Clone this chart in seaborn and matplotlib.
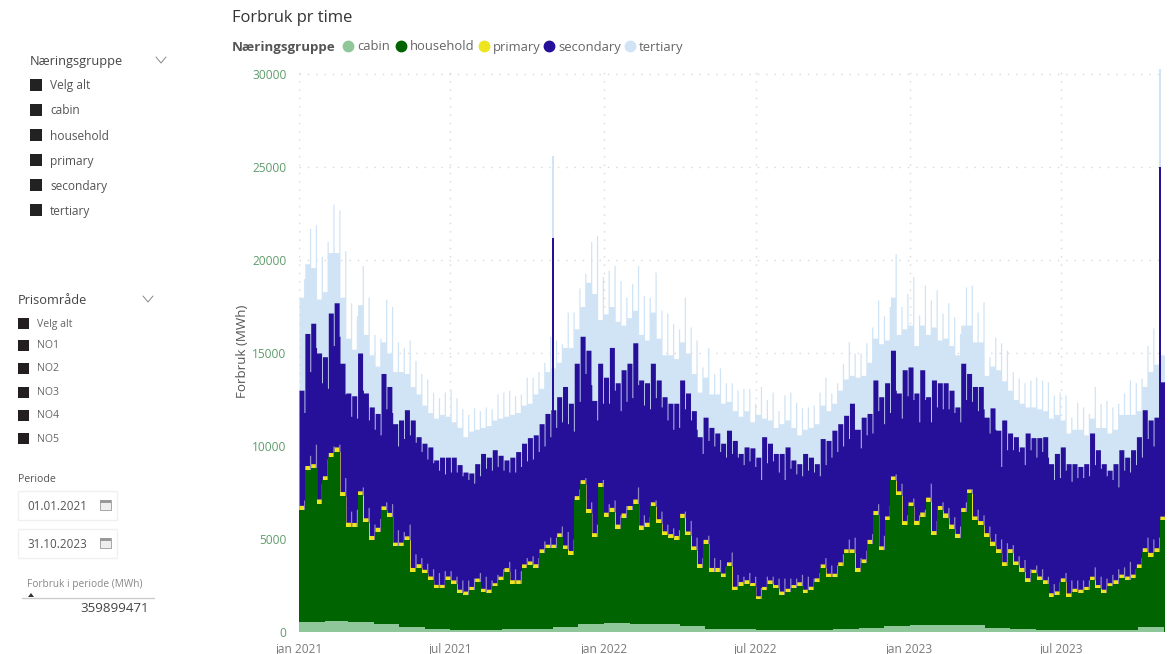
import pandas as pd
import seaborn as sns
import matplotlib.pyplot as plt
from matplotlib.lines import Line2D
from matplotlib.patches import Rectangle, Polygon

# Weekly readings: a long block for most of the week, a short one for the rest
tertiary_mass = [
    18000,19800,19600,17900,18300,20400,20400,18000,15800,15200,
    17600,16000,14900,14300,15600,15000,14000,14000,13900,13200,
    12800,12200,11800,11500,11700,11600,11300,11000,10500,10800,
    10900,11000,11100,11400,11500,11600,11700,11800,12200,12300,
    12800,13100,14000,14200,14500,15300,15300,16300,17500,18800,
    18200,16800,17100,17500,16700,16500,16900,17300,16000,15700,
    17200,15800,14900,14900,14700,15600,15000,13900,12900,13700,
    12800,12800,12300,12400,11900,11600,11900,11300,11700,11500,
    11400,11000,11200,11400,11000,10600,10900,11000,11200,12200,
    11900,12300,13000,13600,13800,13700,13800,14500,15800,15500,
    15700,18000,16000,16300,16500,15400,16500,16000,16400,15700,
    15800,15400,14900,16500,16500,15600,15600,13800,14300,14100,
    13500,13000,12500,12300,12100,12100,12000,11900,11500,11700,
    11400,10700,10900,10900,10600,11500,11000,11000,10700,10900,
    11700,11700,11700,11900,13200,14000,14400,14900]
tertiary_peak = [
    19000,21700,21900,20200,21000,23000,22700,20500,17700,17000,
    19700,18000,16000,15800,17900,17500,15600,15300,15700,14600,
    13900,13600,12900,12600,12900,13000,12600,12000,11700,12050,
    11900,12100,12000,12800,12900,13000,12700,12800,13700,13700,
    14000,14500,15900,15700,15500,17200,17200,18500,19300,21000,
    21300,19100,19450,19700,18900,18000,18750,19700,18100,18000,
    19350,17300,17150,16600,16300,18000,16400,15700,14250,15300,
    13900,14200,13400,13400,13000,13100,13100,12300,13200,12500,
    12900,11900,12750,12900,12350,12050,12100,12200,12900,13700,
    12850,13400,14450,15600,15000,15000,15550,16400,17850,17000,
    17500,20350,17500,18200,19100,17050,18650,17850,18400,17150,
    17700,16950,16050,18550,18650,17200,17750,14800,15850,15550,
    15150,14000,13650,13400,13550,13700,13550,13450,12750,12900,
    12750,11550,12350,12100,11750,13200,12300,12450,12100,12300,
    12850,13550,13400,13650,15400,16350,16950,15800]
secondary_high = [
    13000,16050,16600,15000,14800,17150,17700,14450,12850,12700,
    15000,12850,12100,11750,13900,13200,11200,11400,11950,11400,
    10500,10150,9950,9250,9400,9400,9400,9000,8600,8550,
    9050,9600,9400,9800,9500,9250,9400,9700,10150,10450,
    10600,11200,11750,11950,12650,13200,12300,14450,15900,15150,
    12450,14450,13700,15300,13400,14100,14450,15550,13550,13400,
    14450,13550,12650,12300,12300,13550,12850,11900,10500,11550,
    11000,10700,10150,10850,10300,9600,9950,9900,9400,10500,
    10150,9600,9600,9950,9250,9050,9600,9400,9050,10400,
    10300,10850,11200,11650,12300,10900,11550,11750,13550,12650,
    13400,15150,12850,14100,14250,12850,14100,12650,13550,13400,
    13400,13000,12100,14450,13900,13200,13200,11550,12050,10850,
    11400,10700,10500,9950,10700,10450,10450,10500,9050,9600,
    9950,9050,9050,8900,9050,10700,9800,9050,8700,9050,
    9800,9400,9800,10500,11950,11400,11550,13450]
secondary_dip = [
    11800,14000,15300,13400,13100,15400,15900,12800,11600,11500,
    13000,11400,10900,10600,12000,11800,10000,10400,10600,10200,
    9700,9300,9100,8700,8500,8600,8600,8400,8200,8000,
    8400,8800,8700,8900,8700,8600,8600,8900,9200,9300,
    9700,10000,10500,11000,11300,11200,10800,12400,13900,13300,
    11400,12300,12300,13000,11900,12400,12600,13300,12200,12000,
    12600,12100,11400,10900,11000,12000,11400,10900,9600,10300,
    10000,9700,9400,9600,9400,9000,9200,8900,8200,9100,
    9200,8600,8200,8800,8500,8400,8700,8600,8400,9000,
    9400,9700,10000,10400,10900,9900,10600,10700,11900,11200,
    11800,13000,11500,12700,12500,11300,12500,11300,12100,12000,
    12000,11800,11300,12500,12400,11900,12000,10700,10900,8900,
    9800,9800,9700,9000,9800,9400,9700,9400,8200,8300,
    8700,8100,8300,8300,8400,9000,8800,8400,8200,7800,
    8700,8600,9000,9400,10400,10000,10100,11800]
household_top = [
    6560,8700,8800,6900,8150,9400,9700,7300,5650,5650,
    7350,5900,4950,5400,6550,6200,4600,4600,4950,3250,
    3450,3150,2800,2350,2350,2800,2600,2100,2000,2250,
    2700,2150,2100,2450,2800,3250,2600,2600,3450,3600,
    3450,4250,4500,4500,5100,4450,4150,7100,7950,6400,
    5100,7800,6200,6450,5550,6150,6550,6900,5500,5650,
    6750,5850,5200,5050,4950,6150,5200,4400,3450,4750,
    3250,3250,2950,3550,2250,2500,2600,2450,1750,2250,
    2600,2350,2000,2150,2350,2500,2100,2250,2700,3450,
    2950,2950,3550,4250,4250,3250,3700,4750,6300,4400,
    6000,8150,7350,5750,6750,5750,6200,7000,5200,6550,
    6150,5550,5050,6450,7450,6000,5750,5100,4650,4250,
    3550,4250,3600,3250,2700,3150,2800,2600,1900,2000,
    2700,1900,2150,2100,2250,2800,2350,2100,2450,2600,
    2900,2800,2900,3450,4300,4050,4300,6000]
household_tick = [
    7100,9500,10100,8000,9300,10000,10100,8300,6500,6600,
    7800,6700,5800,6100,7000,6900,5500,5400,5800,4200,
    4000,3700,3400,3200,3300,3300,3000,2800,2800,2900,
    3200,3000,2800,3100,3400,3800,3400,3300,4000,4100,
    4000,4900,5100,5100,5700,5400,5000,7700,8300,7000,
    5800,8200,6900,7100,6300,6800,6800,7800,6300,6200,
    7100,6500,5800,5600,5500,6500,6000,5100,4000,5200,
    4000,3900,3500,4300,3100,3000,3200,3000,2400,3000,
    3000,2900,2900,2900,2900,3100,3000,2900,3200,4000,
    3600,3600,4200,5000,5100,4000,4400,5300,6900,5200,
    6800,8500,8000,6300,7200,6300,6600,8000,6000,7000,
    6700,6200,5700,7000,7700,6600,6300,5700,5300,5000,
    4800,4700,4100,3900,3400,3600,3400,3000,2600,2700,
    3200,2800,2800,2800,2800,3500,3000,2900,3100,3400,
    3500,3800,3400,4000,5100,5000,5100,6400]

# Monthly readings jan 2021 - okt 2023
cabin_top = [560,600,520,420,280,170,130,130,150,180,250,420,
             480,430,430,300,170,140,120,120,130,160,200,340,
             400,400,400,190,170,130,130,120,130,260]
primary_band = [250,250,240,230,220,210,200,200,210,220,230,240,
                250,250,240,230,220,210,200,200,210,220,230,240,
                250,250,240,230,220,210,200,200,210,230]

# The two single days that stick out
spike_dates = ["2021-10-30", "2023-10-26"]
spike_secondary = [21200, 25000]
spike_tertiary = [25600, 30400]

tick_dates = ["2021-01-01", "2021-07-01", "2022-01-01", "2022-07-01", "2023-01-01", "2023-07-01"]
tick_labels = ["jan 2021", "jul 2021", "jan 2022", "jul 2022", "jan 2023", "jul 2023"]
y_ticks = [0, 5000, 10000, 15000, 20000, 25000, 30000]

groups = ["cabin", "household", "primary", "secondary", "tertiary"]
colors = ["#8fc79a", "#006400", "#ede51f", "#260f99", "#d0e4f5"]
col = dict(zip(groups, colors))

W, H = 1173, 654
sns.set_theme(style="whitegrid", rc={"axes.edgecolor": "white"})
plt.rcParams["font.family"] = ["Open Sans", "DejaVu Sans"]

fig = plt.figure(figsize=(W / 100, H / 100), dpi=100)
ax = fig.add_axes([299 / W, 1 - 632 / H, 865 / W, 563 / H])

start = pd.Timestamp("2021-01-01")
n_days = 1034
weeks = [i * 7 for i in range(len(household_top))]


def layer(edges, values, color, element="step"):
    edges = [float(e) for e in edges]
    mids = [(a + b) / 2 for a, b in zip(edges[:-1], edges[1:])]
    d = pd.DataFrame({"day": mids, "value": values})
    sns.histplot(d, x="day", weights="value", bins=edges, element=element, fill=True,
                 color=color, alpha=1, linewidth=0, ax=ax, zorder=3)


def two_block(long_vals, short_vals, split=5.5):
    edges, vals = [], []
    for w, a, b in zip(weeks, long_vals, short_vals):
        edges += [w, w + split]
        vals += [a, b]
    edges.append(weeks[-1] + 7)
    return edges, vals


spike_days = [(pd.Timestamp(d) - start).days for d in spike_dates]

edges, vals = two_block(tertiary_mass, tertiary_peak)
layer(edges, vals, col["tertiary"])
for d, v in zip(spike_days, spike_tertiary):
    layer([d, d + 2.5], [v], col["tertiary"], element="bars")

edges, vals = two_block(secondary_high, secondary_dip, split=6)
layer(edges, vals, col["secondary"])
for d, v in zip(spike_days, spike_secondary):
    layer([d, d + 2.5], [v], col["secondary"], element="bars")

# pale ticks over the household top
edges, vals = two_block([0] * len(weeks), household_tick)
layer(edges, vals, "#8f86c8")

week_dates = [start + pd.Timedelta(days=w) for w in weeks]
month_index = [(t.year - 2021) * 12 + t.month - 1 for t in week_dates]
with_primary = [h + primary_band[m] for h, m in zip(household_top, month_index)]
edges, vals = two_block(with_primary, household_top, split=5.5)
layer(edges, vals, col["primary"])
layer(weeks + [weeks[-1] + 7], household_top, col["household"])

month_edges = [(d - start).days for d in pd.date_range("2021-01-01", periods=len(cabin_top) + 1, freq="MS")]
layer(month_edges, cabin_top, col["cabin"])

ax.set_xlim(0, n_days)
ax.set_ylim(0, 563 / 0.0186)
ax.set_xticks([(pd.Timestamp(d) - start).days for d in tick_dates])
ax.set_xticklabels(tick_labels, color="#7a7a7a", fontsize=8.6)
ax.set_yticks(y_ticks)
ax.set_yticklabels([str(v) for v in y_ticks], color="#5f9c6b", fontsize=8.6)
ax.tick_params(axis="x", length=0, pad=8)
ax.tick_params(axis="y", length=0, pad=9)
ax.grid(True, color="#d8d8d8", linewidth=1, linestyle=(0, (1, 5)))
ax.set_axisbelow(True)
sns.despine(ax=ax, left=True, bottom=True)
ax.set_xlabel("")
ax.set_ylabel("")


# slicer panel and headers, placed in picture pixels
def txt(x, y, s, size=9, color="#444444", **kw):
    kw.setdefault("va", "center")
    fig.text(x / W, 1 - (y + 1) / H, s, fontsize=size, color=color, **kw)


def box(x, y, w, h, **kw):
    fig.add_artist(Rectangle((x / W, 1 - (y + h) / H), w / W, h / H, transform=fig.transFigure, **kw))


def chevron(x, y):
    fig.add_artist(Line2D([(x - 5) / W, x / W, (x + 5) / W], [1 - (y - 3) / H, 1 - (y + 3) / H, 1 - (y - 3) / H],
                          color="#888888", linewidth=0.7))


def calendar(x, y):
    box(x - 5, y - 5, 11, 10, facecolor="#eeeeee", edgecolor="#999999", linewidth=0.6)
    box(x - 5, y - 5, 11, 2.5, facecolor="#999999", edgecolor="none")


# hide the seam the fills leave along the base line
box(295, 632, 875, 3, facecolor="white", edgecolor="none")

txt(232, 17, "Forbruk pr time", size=11.9, color="#333333")
txt(232, 46, "Næringsgruppe", size=9.6, color="#555555", fontweight="bold")
legend_x = [348, 401, 484, 549, 630]
for g, x in zip(groups, legend_x):
    fig.add_artist(Line2D([x / W], [1 - 46 / H], marker="o", markersize=7.5, color=col[g], linestyle="none"))
    txt(x + 9, 46, g, size=9.4, color="#666666")

txt(242, 350, "Forbruk (MWh)", size=9.6, color="#555555", rotation=90, ha="center")

txt(30, 61, "Næringsgruppe", size=9.2, color="#444444")
chevron(161, 60)
for y, s in zip([85, 110, 135, 160, 185, 210], ["Velg alt", "cabin", "household", "primary", "secondary", "tertiary"]):
    box(30, y - 6, 12, 12, facecolor="#222222", edgecolor="none")
    txt(50, y, s, size=8.6, color="#555555")

txt(18, 300, "Prisområde", size=9.2, color="#444444")
chevron(148, 299)
for y, s in zip([323, 345, 368, 392, 415, 438], ["Velg alt", "NO1", "NO2", "NO3", "NO4", "NO5"]):
    box(18, y - 5, 11, 11, facecolor="#231f20", edgecolor="none")
    txt(37, y, s, size=7.6, color="#666666")

txt(18, 478, "Periode", size=7.6, color="#555555")
for y, s in zip([491, 529], ["01.01.2021", "31.10.2023"]):
    box(18, y, 99, 29, facecolor="white", edgecolor="#f0f0f0", linewidth=1)
    txt(27, y + 15, s, size=8.4, color="#555555")
    calendar(105, y + 14)

txt(27, 583, "Forbruk i periode (MWh)", size=7.3, color="#888888")
fig.add_artist(Line2D([22 / W, 154 / W], [1 - 598 / H, 1 - 598 / H], color="#cccccc", linewidth=1))
fig.add_artist(Polygon([[28 / W, 1 - 597 / H], [34 / W, 1 - 597 / H], [31 / W, 1 - 593 / H]],
                       transform=fig.transFigure, facecolor="#333333", edgecolor="none"))
txt(149, 608, "359899471", size=9.6, color="#444444", ha="right")

fig.savefig("out.png", dpi=100)
